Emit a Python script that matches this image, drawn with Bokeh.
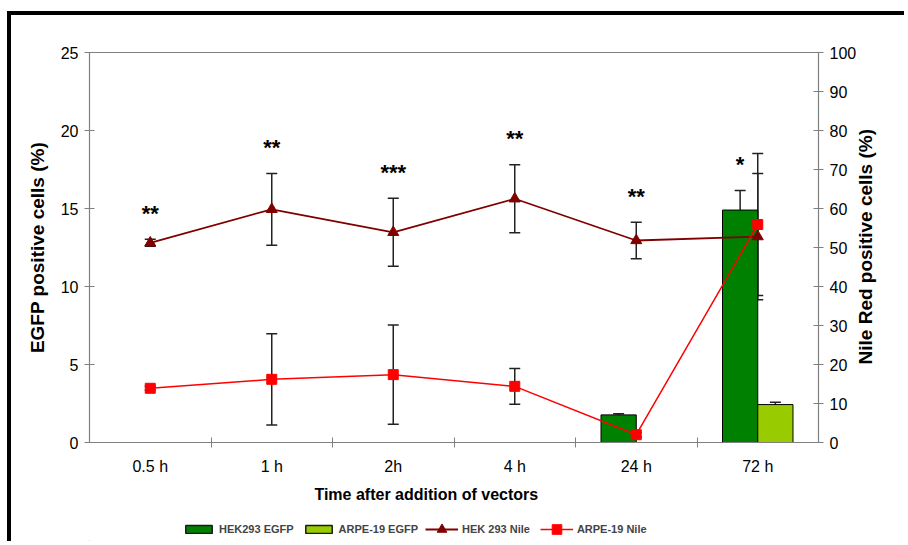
import math
from bokeh.plotting import figure
from bokeh.layouts import column
from bokeh.models import (Range1d, LinearAxis, FixedTicker, Whisker, ColumnDataSource,
                          Legend, LegendItem, TeeHead)
from bokeh.embed import file_html
from bokeh.resources import INLINE
from bokeh.core.properties import value

categories = ["0.5 h", "1 h", "2h", "4 h", "24 h", "72 h"]
hek_egfp = [0, 0, 0, 0, 1.77, 14.9]
hek_egfp_err = [0, 0, 0, 0, 0.08, 1.25]
arpe_egfp = [0, 0, 0, 0, 0, 2.43]
arpe_egfp_err = [0, 0, 0, 0, 0, 0.15]
hek_nile = [51.2, 59.8, 53.9, 62.5, 51.8, 52.8]
hek_nile_err = [0.9, 9.2, 8.7, 8.7, 4.7, 16.2]
arpe_nile = [13.9, 16.2, 17.4, 14.4, 2.0, 55.9]
arpe_nile_err = [0.5, 11.7, 12.7, 4.6, 0.6, 18.2]
stars = ["**", "**", "***", "**", "**", "*"]
star_on_bar = [False, False, False, False, False, True]
series_names = ["HEK293 EGFP", "ARPE-19 EGFP", "HEK 293 Nile", "ARPE-19 Nile"]
x_title = "Time after addition of vectors"
y_title = "EGFP positive cells (%)"
y2_title = "Nile Red positive cells (%)"

FONT = "Liberation Sans"
EGFP_MAX = 25
NILE_MAX = 100
C_HEK_BAR = "#008000"
C_ARPE_BAR = "#99CC00"
C_HEK_LINE = "#800000"
C_ARPE_LINE = "#FF0000"
FRAME_H = 390          # plot-area height in px
Y_TITLE_PX = 19
X_TITLE_CENTER = 0.462  # x title centre, as fraction of the plot width
n = len(categories)
xc = [i + 0.5 for i in range(n)]
bw = 0.29

p = figure(width=897, height=497, x_range=Range1d(0, n), y_range=Range1d(0, EGFP_MAX),
           output_backend="svg", toolbar_location=None,
           min_border_left=78, min_border_right=90, min_border_top=37, min_border_bottom=70)
p.styles = {"border-left": "4px solid black", "border-top": "4px solid black"}
p.margin = (11, 0, 0, 7)
p.extra_y_ranges = {"nile": Range1d(0, NILE_MAX)}
p.xgrid.visible = False
p.ygrid.visible = False
p.outline_line_color = "#808080"
p.outline_line_width = 1.2
p.background_fill_color = "white"
p.border_fill_color = "white"

# axes
p.xaxis.ticker = FixedTicker(ticks=xc, minor_ticks=list(range(1, n)))
p.xaxis.major_label_overrides = {x: c for x, c in zip(xc, categories)}
p.xaxis.major_tick_in = 0
p.xaxis.major_tick_out = 0
p.xaxis.minor_tick_in = 5
p.xaxis.minor_tick_out = 5
p.xaxis.minor_tick_line_color = "#808080"

p.yaxis.ticker = FixedTicker(ticks=list(range(0, EGFP_MAX + 1, 5)))
p.yaxis.axis_label = y_title
p.yaxis.minor_tick_line_color = None
p.yaxis.major_tick_in = 5
p.yaxis.major_tick_out = 5

ry = LinearAxis(y_range_name="nile", ticker=FixedTicker(ticks=list(range(0, NILE_MAX + 1, 10))))
ry.major_tick_in = 5
ry.major_tick_out = 5
ry.minor_tick_line_color = None
p.add_layout(ry, "right")

for ax in [p.xaxis[0], p.yaxis[0], ry]:
    ax.axis_line_color = "#808080"
    ax.major_tick_line_color = "#808080"
    ax.major_label_text_font = FONT
    ax.major_label_text_font_size = "16px"
    ax.major_label_text_color = "black"
    ax.axis_label_text_font = FONT
    ax.axis_label_text_font_style = "bold"
    ax.axis_label_text_font_size = f"{Y_TITLE_PX}px"
    ax.axis_label_text_color = "black"
p.xaxis.major_label_standoff = 10
p.yaxis.major_label_standoff = 6
p.yaxis.axis_label_standoff = 10
ry.major_label_standoff = 6

# right-hand title (reads bottom to top): a label-only axis whose single tick sits so the
# text is centred on the plot height
y2_len = 12.31 * Y_TITLE_PX
t_val = round(NILE_MAX * (0.5 - (y2_len / 2) / FRAME_H), 2)
rt = LinearAxis(y_range_name="nile", ticker=FixedTicker(ticks=[t_val]))
rt.major_label_overrides = {t_val: y2_title}
rt.major_label_orientation = math.pi / 2
rt.axis_line_color = None
rt.major_tick_line_color = None
rt.minor_tick_line_color = None
rt.major_label_standoff = 0
rt.major_label_text_font = FONT
rt.major_label_text_font_style = "bold"
rt.major_label_text_font_size = f"{Y_TITLE_PX}px"
rt.major_label_text_color = "black"
p.add_layout(rt, "right")

# x title as a label-only axis (lets it sit slightly left of centre like the original)
t_x = round(n * X_TITLE_CENTER, 3)
bt = LinearAxis(ticker=FixedTicker(ticks=[t_x]))
bt.major_label_overrides = {t_x: x_title}
bt.axis_line_color = None
bt.major_tick_line_color = None
bt.minor_tick_line_color = None
bt.major_label_standoff = 2
bt.major_label_text_font = FONT
bt.major_label_text_font_style = "bold"
bt.major_label_text_font_size = "16px"
bt.major_label_text_color = "black"
p.add_layout(bt, "below")

# bars
x_hek = [x - bw / 2 for x in xc]
x_arpe = [x + bw / 2 for x in xc]
p.vbar(x=x_hek, top=hek_egfp, width=bw, fill_color=C_HEK_BAR, line_color="black", line_width=1)
p.vbar(x=x_arpe, top=arpe_egfp, width=bw, fill_color=C_ARPE_BAR, line_color="black", line_width=1)

def whisk(xs, ys, errs, yname="default", both=True):
    idx = [i for i in range(len(xs)) if errs[i] > 0]
    src = ColumnDataSource(dict(x=[xs[i] for i in idx],
                                lo=[ys[i] - errs[i] if both else ys[i] for i in idx],
                                hi=[ys[i] + errs[i] for i in idx]))
    w = Whisker(source=src, base="x", lower="lo", upper="hi", dimension="height",
                line_color="#222222", line_width=1.5, y_range_name=yname,
                upper_head=TeeHead(size=11, line_color="#222222", line_width=1.5),
                lower_head=TeeHead(size=11, line_color="#222222", line_width=1.5) if both else None)
    p.add_layout(w)

whisk(x_hek, hek_egfp, hek_egfp_err, both=False)
whisk(x_arpe, arpe_egfp, arpe_egfp_err, both=False)
whisk(xc, hek_nile, hek_nile_err, "nile")
whisk(xc, arpe_nile, arpe_nile_err, "nile")

# lines
p.line(xc, hek_nile, line_color=C_HEK_LINE, line_width=1.8, y_range_name="nile")
p.scatter(xc, hek_nile, marker="triangle", size=11, fill_color=C_HEK_LINE,
          line_color=C_HEK_LINE, y_range_name="nile")
p.line(xc, arpe_nile, line_color=C_ARPE_LINE, line_width=1.5, y_range_name="nile")
p.scatter(xc, arpe_nile, marker="square", size=10, fill_color=C_ARPE_LINE,
          line_color=C_ARPE_LINE, y_range_name="nile")

# significance stars
scale = NILE_MAX / EGFP_MAX
sx, sy = [], []
for i in range(n):
    if star_on_bar[i]:
        sx.append(x_hek[i])
        sy.append((hek_egfp[i] + hek_egfp_err[i]) * scale)
    else:
        sx.append(xc[i])
        sy.append(hek_nile[i] + hek_nile_err[i])
p.text(x=sx, y=sy, text=stars, y_range_name="nile", text_align="center", text_baseline="middle",
       y_offset=-26, text_font=value(FONT), text_font_style="bold", text_font_size="22px",
       text_color="black")

# legend strip (separate small figure below the chart; its renderers sit outside its ranges)
lg = figure(width=897, height=33, x_range=Range1d(0, 1), y_range=Range1d(0, 1),
            output_backend="svg", toolbar_location=None,
            min_border=0, min_border_left=0, min_border_right=0, min_border_top=0, min_border_bottom=0)
lg.axis.visible = False
lg.grid.visible = False
lg.outline_line_color = None
lg.styles = {"border-left": "4px solid black"}
lg.margin = (0, 0, 0, 7)
hx, hy = [-9], [-9]
r1 = lg.vbar(x=hx, top=hy, width=0.1, fill_color=C_HEK_BAR, line_color="#1a1a1a", line_width=1.5)
r2 = lg.vbar(x=hx, top=hy, width=0.1, fill_color=C_ARPE_BAR, line_color="#1a1a1a", line_width=1.5)
r3 = lg.line(x=hx, y=hy, line_color=C_HEK_LINE, line_width=1.8)
r3m = lg.scatter(x=hx, y=hy, marker="triangle", size=11, fill_color=C_HEK_LINE, line_color=C_HEK_LINE)
r4 = lg.line(x=hx, y=hy, line_color=C_ARPE_LINE, line_width=1.5)
r4m = lg.scatter(x=hx, y=hy, marker="square", size=10, fill_color=C_ARPE_LINE, line_color=C_ARPE_LINE)

def make_legend(items, loc, gh, spacing):
    leg = Legend(items=items, orientation="horizontal", location=loc)
    leg.glyph_width = 33
    leg.glyph_height = gh
    leg.label_text_font = FONT
    leg.label_text_font_style = "bold"
    leg.label_text_font_size = "11px"
    leg.label_text_baseline = "middle"
    leg.label_standoff = 4
    leg.spacing = spacing
    leg.padding = 0
    leg.margin = 0
    leg.border_line_color = None
    leg.background_fill_alpha = 0
    lg.add_layout(leg, "center")

make_legend([LegendItem(label=series_names[0], renderers=[r1]),
             LegendItem(label=series_names[1], renderers=[r2])], (93, 6), 10, 8)
make_legend([LegendItem(label=series_names[2], renderers=[r3, r3m]),
             LegendItem(label=series_names[3], renderers=[r4, r4m])], (336, 0), 24, 10)

layout = column(p, lg, spacing=0)
open("out.html", "w").write(file_html(layout, INLINE))
